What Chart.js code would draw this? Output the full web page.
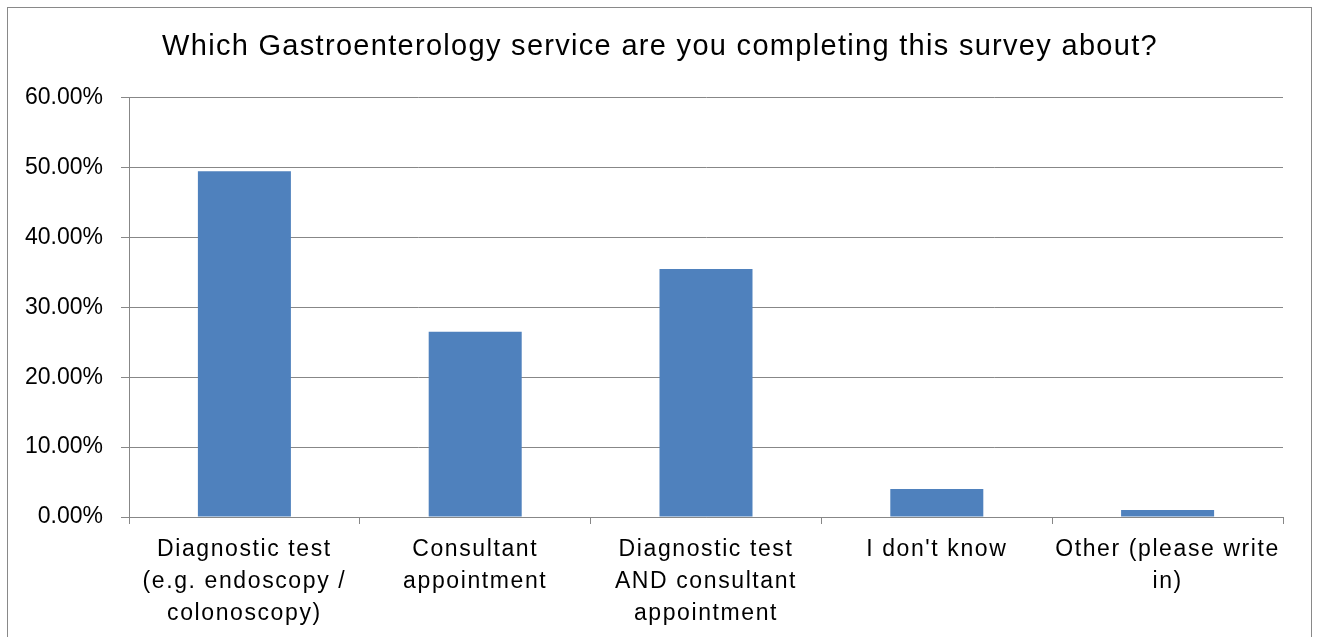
<!DOCTYPE html>
<html>
<head>
<meta charset="utf-8">
<script src="https://cdn.jsdelivr.net/npm/chart.js@4/dist/chart.umd.min.js"></script>
<style>
  html, body { margin: 0; padding: 0; background: #fff; overflow: hidden; }
  #wrap { position: absolute; left: 0; top: 0; width: 1317px; height: 637px; }
  #frame { position: absolute; left: 7px; top: 7px; width: 1305px; height: 660px; border: 1px solid #898989; box-sizing: border-box; pointer-events: none; }
</style>
</head>
<body>
<div id="wrap"><canvas id="c" width="1317" height="637"></canvas></div>
<div id="frame"></div>
<script>
const titleText = "Which Gastroenterology service are you completing this survey about?";
const categories = [
  ["Diagnostic test", "(e.g. endoscopy /", "colonoscopy)"],
  ["Consultant", "appointment"],
  ["Diagnostic test", "AND consultant", "appointment"],
  ["I don't know"],
  ["Other (please write", "in)"]
];
const values = [49.5, 26.5, 35.5, 4.0, 1.0];
const yTicks = [0, 10, 20, 30, 40, 50, 60];

const FONT = "'Liberation Sans', Arial, sans-serif";
const axisColor = "#878787";

// Wider text tracking for the title and category labels (as in the reference rendering);
// the title is centred on the whole canvas rather than on the padded layout box.
const trackingPlugin = {
  id: 'tracking',
  afterLayout(chart) {
    const xs = chart.scales.x;
    if (xs && !xs._tracked) {
      const orig = xs.drawLabels;
      xs.drawLabels = function (area) {
        const c = this.ctx; c.save(); c.letterSpacing = '1.6px';
        orig.call(this, area); c.restore();
      };
      xs._tracked = true;
    }
    const tb = chart.titleBlock;
    if (tb && !tb._tracked) {
      const origT = tb.draw;
      tb.draw = function (area) {
        const c = this.ctx; c.save(); c.letterSpacing = '1.3px';
        const boxCenter = (this.left + this.right) / 2;
        c.translate(chart.width / 2 - boxCenter + 1.5, 0);
        origT.call(this, area); c.restore();
      };
      tb._tracked = true;
    }
  }
};

new Chart(document.getElementById('c'), {
  type: 'bar',
  data: {
    labels: categories,
    datasets: [{
      data: values,
      backgroundColor: '#4F81BD',
      borderWidth: 0,
      categoryPercentage: 1.0,
      barPercentage: 0.403
    }]
  },
  plugins: [trackingPlugin],
  options: {
    responsive: false,
    animation: false,
    events: [],
    layout: { padding: { left: 0, right: 34, top: 0, bottom: 0 } },
    plugins: {
      legend: { display: false },
      tooltip: { enabled: false },
      title: {
        display: true,
        text: titleText,
        color: '#000',
        font: { family: FONT, size: 29, weight: 'normal', lineHeight: 1.2 },
        padding: { top: 30, bottom: 33 }
      }
    },
    scales: {
      x: {
        grid: { display: true, drawOnChartArea: false, drawTicks: true, tickLength: 7, color: axisColor, offset: true },
        border: { display: true, color: axisColor, width: 1 },
        ticks: {
          color: '#000',
          font: { family: FONT, size: 23, lineHeight: 1.38 },
          padding: 10,
          maxRotation: 0,
          autoSkip: false
        },
        afterFit(scale) { scale.height = 120; }
      },
      y: {
        min: 0, max: 60,
        afterBuildTicks(scale) { scale.ticks = yTicks.map(v => ({ value: v })); },
        grid: { display: true, drawTicks: true, tickLength: 8, color: axisColor, lineWidth: 1 },
        border: { display: true, color: axisColor, width: 1 },
        ticks: {
          color: '#000',
          font: { family: FONT, size: 23 },
          padding: 18,
          callback: v => v.toFixed(2) + '%'
        },
        afterFit(scale) { scale.width = 129; }
      }
    }
  }
});
</script>
</body>
</html>
